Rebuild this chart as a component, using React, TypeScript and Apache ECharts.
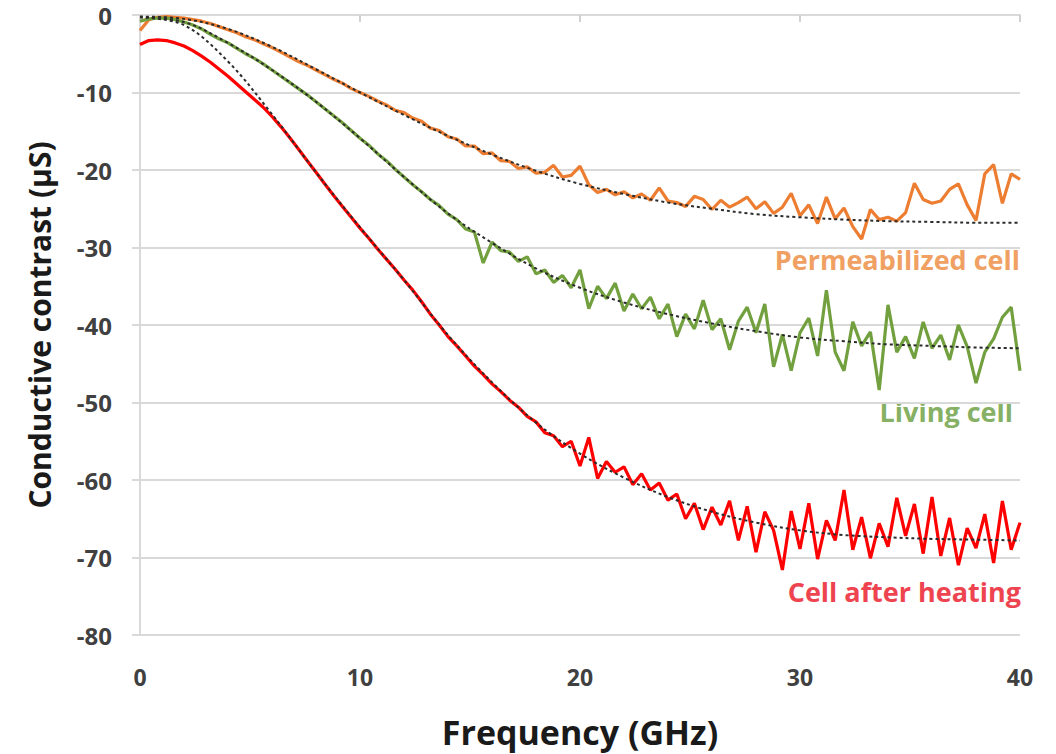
import React, { useEffect, useRef } from "react";
import * as echarts from "echarts";

// Frequency axis of the measured traces (GHz)
const freq = [
  0, 0.4, 0.8, 1.2, 1.6, 2, 2.4, 2.8, 3.2, 3.6, 4, 4.4, 4.8, 5.2, 5.6, 6, 6.4, 6.8, 7.2, 7.6,
  8, 8.4, 8.8, 9.2, 9.6, 10, 10.4, 10.8, 11.2, 11.6, 12, 12.4, 12.8, 13.2, 13.6, 14, 14.4, 14.8, 15.2, 15.6,
  16, 16.4, 16.8, 17.2, 17.6, 18, 18.4, 18.8, 19.2, 19.6, 20, 20.4, 20.8, 21.2, 21.6, 22, 22.4, 22.8, 23.2, 23.6,
  24, 24.4, 24.8, 25.2, 25.6, 26, 26.4, 26.8, 27.2, 27.6, 28, 28.4, 28.8, 29.2, 29.6, 30, 30.4, 30.8, 31.2, 31.6,
  32, 32.4, 32.8, 33.2, 33.6, 34, 34.4, 34.8, 35.2, 35.6, 36, 36.4, 36.8, 37.2, 37.6, 38, 38.4, 38.8, 39.2, 39.6, 40,
];

// Permeabilized cell (µS)
const permeabilized = [
  -2.0, -0.6, -0.3, -0.2, -0.3, -0.4, -0.6, -0.8, -1.1, -1.5, -1.9, -2.3, -2.8, -3.2, -3.7, -4.2, -4.8, -5.4, -6.0, -6.5,
  -7.1, -7.7, -8.3, -8.8, -9.5, -10.0, -10.5, -11.1, -11.6, -12.3, -12.6, -13.3, -13.7, -14.6, -14.9, -15.7, -16.0, -16.9, -16.9, -17.9,
  -17.8, -18.8, -18.9, -19.8, -19.6, -20.4, -20.3, -19.4, -20.9, -20.7, -19.5, -21.9, -22.9, -22.5, -23.2, -22.8, -23.6, -23.1, -23.9, -22.3,
  -24.0, -24.2, -24.7, -23.4, -23.8, -25.1, -23.9, -24.8, -24.2, -23.5, -25.0, -24.1, -25.6, -24.8, -23.0, -25.9, -24.5, -26.9, -23.5, -26.3,
  -24.9, -27.3, -28.9, -25.1, -26.4, -26.1, -26.6, -25.5, -21.7, -23.8, -24.3, -24.0, -22.5, -21.8, -24.5, -26.5, -20.5, -19.3, -24.3, -20.5, -21.2,
];

// Living cell (µS)
const living = [
  -0.8, -0.5, -0.4, -0.4, -0.6, -0.9, -1.3, -1.8, -2.5, -3.1, -3.6, -4.3, -5.0, -5.6, -6.3, -7.1, -7.9, -8.7, -9.5, -10.3,
  -11.2, -12.1, -13.0, -13.9, -14.9, -15.9, -16.8, -17.9, -18.8, -19.9, -20.9, -21.9, -22.8, -23.8, -24.6, -25.7, -26.4, -27.6, -28.0, -32.0,
  -29.3, -30.4, -30.6, -31.8, -31.2, -33.4, -32.9, -34.5, -33.6, -35.2, -32.9, -37.9, -35.0, -36.6, -34.6, -38.2, -36.0, -37.9, -36.4, -39.2,
  -37.3, -41.5, -38.6, -40.5, -36.8, -40.6, -39.2, -43.2, -39.5, -37.7, -41.0, -37.3, -45.4, -41.2, -45.9, -41.0, -39.1, -44.0, -35.5, -43.5,
  -45.9, -39.6, -42.7, -40.9, -48.4, -37.4, -43.5, -41.5, -44.3, -39.6, -43.0, -41.3, -44.5, -40.0, -42.8, -47.5, -43.5, -41.8, -39.0, -37.7, -45.9,
];

// Cell after heating (µS)
const heated = [
  -3.8, -3.3, -3.2, -3.3, -3.6, -4.0, -4.6, -5.3, -6.1, -7.0, -7.9, -8.9, -9.9, -10.9, -11.9, -13.1, -14.4, -15.8, -17.3, -18.8,
  -20.3, -21.8, -23.3, -24.7, -26.1, -27.5, -28.8, -30.2, -31.5, -32.8, -34.2, -35.5, -37.0, -38.6, -40.0, -41.5, -42.7, -44.0, -45.3, -46.4,
  -47.6, -48.6, -49.7, -50.6, -51.8, -52.5, -53.9, -54.3, -55.7, -55.0, -58.2, -54.5, -59.8, -57.6, -59.0, -58.3, -60.6, -59.2, -61.3, -60.4,
  -62.6, -61.8, -65.0, -63.0, -66.4, -63.5, -65.8, -62.7, -67.8, -63.4, -69.3, -64.1, -66.5, -71.6, -64.0, -68.9, -63.0, -70.2, -65.2, -67.8,
  -61.3, -69.0, -64.8, -70.1, -65.6, -68.6, -62.3, -67.2, -63.1, -69.5, -62.2, -69.8, -64.9, -71.0, -66.2, -68.8, -64.4, -70.7, -62.7, -69.0, -65.5,
];

// Fitted curves (dashed black)
const fitFreq = [0, 2, 4, 6, 8, 10, 12, 14, 16, 18, 20, 22, 24, 26, 28, 30, 32, 34, 36, 38, 40];
const fitPermeabilized = [-0.2, -0.5, -1.8, -4.1, -7.0, -10.0, -12.9, -15.6, -18.0, -20.1, -21.8, -23.1, -24.2, -25.0, -25.7, -26.1, -26.4, -26.6, -26.7, -26.8, -26.8];
const fitLiving = [-0.3, -0.9, -3.6, -7.1, -11.2, -15.9, -20.9, -25.6, -29.4, -32.7, -35.2, -37.1, -38.6, -39.8, -40.8, -41.6, -42.1, -42.5, -42.7, -42.9, -43.0];
const fitHeated = [-0.3, -1.3, -6.0, -12.8, -20.3, -27.4, -34.2, -41.3, -47.4, -52.6, -56.6, -59.7, -62.2, -64.1, -65.5, -66.5, -67.1, -67.4, -67.6, -67.7, -67.8];

const seriesNames = ["Permeabilized cell", "Living cell", "Cell after heating"];
const xTicks = [0, 10, 20, 30, 40];
const yTicks = [0, -10, -20, -30, -40, -50, -60, -70, -80];

const FONT = "'Open Sans', Lato, sans-serif";

export default function App() {
  const ref = useRef<HTMLDivElement>(null);

  useEffect(() => {
    const chart = echarts.init(ref.current!, null, { renderer: "svg" });
    const pair = (xs: number[], ys: number[]) => xs.map((x, i) => [x, ys[i]]);

    const dataLine = (name: string, ys: number[], color: string) => ({
      name,
      type: "line",
      xAxisIndex: 0,
      data: pair(freq, ys),
      showSymbol: false,
      symbol: "none",
      lineStyle: { color, width: 3.2 },
      z: 3,
    });
    const fitLine = (name: string, ys: number[]) => ({
      name,
      type: "line",
      xAxisIndex: 0,
      data: pair(fitFreq, ys),
      smooth: 0.35,
      showSymbol: false,
      symbol: "none",
      lineStyle: { color: "#2b2b2b", width: 2, type: [3, 3] },
      z: 4,
    });

    chart.setOption({
      animation: false,
      backgroundColor: "#ffffff",
      grid: { left: 140, right: 36, top: 15, bottom: 119, containLabel: false },
      xAxis: [
        {
          type: "value",
          min: xTicks[0],
          max: xTicks[xTicks.length - 1],
          interval: 10,
          position: "bottom",
          axisLine: { show: false, onZero: false },
          axisTick: { show: false },
          splitLine: { show: false },
          axisLabel: {
            margin: 30,
            fontSize: 23,
            fontWeight: "bold",
            color: "#404040",
            fontFamily: FONT,
          },
          name: "Frequency (GHz)",
          nameLocation: "middle",
          nameGap: 80,
          nameTextStyle: { fontSize: 34, fontWeight: "bold", color: "#1a1a1a", fontFamily: FONT },
        },
        {
          type: "value",
          min: 0,
          max: 40,
          interval: 10,
          position: "top",
          axisLine: { show: true, onZero: false, lineStyle: { color: "#d9d9d9", width: 2 } },
          axisTick: { show: true, inside: true, length: 7, lineStyle: { color: "#d0d0d0", width: 2 } },
          axisLabel: { show: false },
          splitLine: { show: false },
        },
      ],
      yAxis: {
        type: "value",
        min: yTicks[yTicks.length - 1],
        max: yTicks[0],
        interval: 10,
        axisLine: { show: true, lineStyle: { color: "#d9d9d9", width: 2 } },
        axisTick: { show: true, length: 8, lineStyle: { color: "#d9d9d9", width: 2 } },
        splitLine: { show: true, lineStyle: { color: "#d9d9d9", width: 2 } },
        axisLabel: {
          margin: 28,
          fontSize: 24,
          fontWeight: "bold",
          color: "#404040",
          fontFamily: FONT,
        },
        name: "Conductive contrast (µS)",
        nameLocation: "middle",
        nameGap: 86,
        nameTextStyle: { fontSize: 30, fontWeight: "bold", color: "#1a1a1a", fontFamily: FONT },
      },
      series: [
        dataLine(seriesNames[0], permeabilized, "#ED7D31"),
        dataLine(seriesNames[1], living, "#72A03E"),
        dataLine(seriesNames[2], heated, "#FF0000"),
        fitLine(seriesNames[0] + " fit", fitPermeabilized),
        fitLine(seriesNames[1] + " fit", fitLiving),
        fitLine(seriesNames[2] + " fit", fitHeated),
      ],
      graphic: [
        {
          type: "text",
          x: 1020,
          y: 259,
          style: {
            text: seriesNames[0],
            fill: "#F0A063",
            font: `bold 27px ${FONT}`,
            align: "right",
            verticalAlign: "middle",
          },
        },
        {
          type: "text",
          x: 1013,
          y: 411,
          style: {
            text: seriesNames[1],
            fill: "#86B064",
            font: `bold 27px ${FONT}`,
            align: "right",
            verticalAlign: "middle",
          },
        },
        {
          type: "text",
          x: 1021,
          y: 591,
          style: {
            text: seriesNames[2],
            fill: "#EE4450",
            font: `bold 27px ${FONT}`,
            align: "right",
            verticalAlign: "middle",
          },
        },
      ],
    });

    return () => chart.dispose();
  }, []);

  return (
    <div
      ref={ref}
      style={{ position: "absolute", left: 0, top: 0, width: 1056, height: 754, background: "#fff" }}
    />
  );
}
